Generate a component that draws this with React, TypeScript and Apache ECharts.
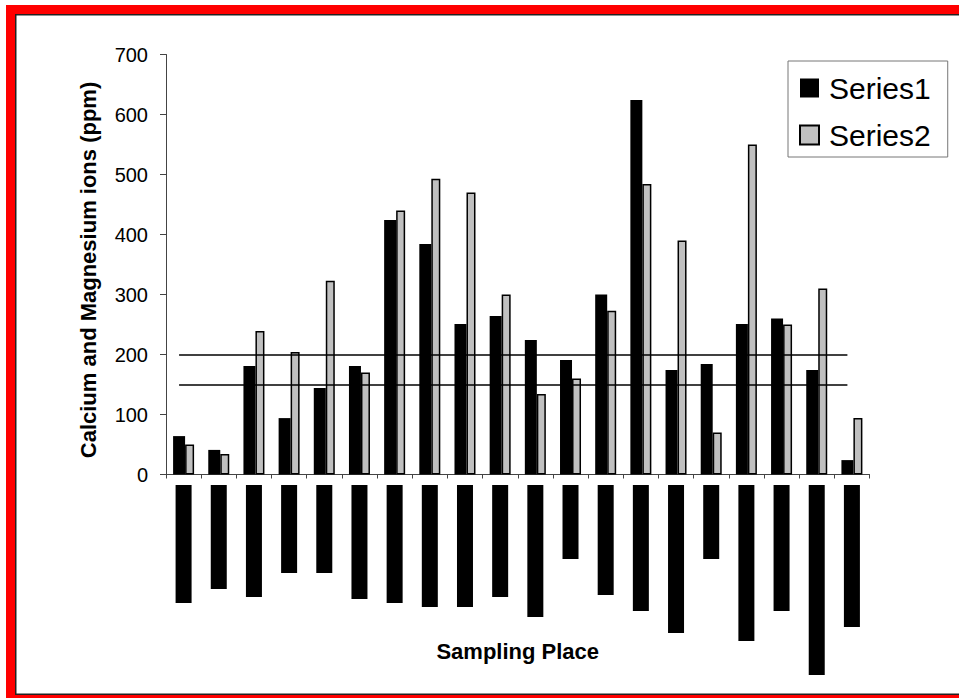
import React, { useEffect, useRef } from "react";
import * as echarts from "echarts";

const categories = ["1", "2", "3", "4", "5", "6", "7", "8", "9", "10", "11", "12", "13", "14", "15", "16", "17", "18", "19", "20"];
const series1Values = [64, 41, 181, 94, 144, 181, 424, 384, 251, 264, 224, 191, 300, 624, 174, 184, 251, 260, 174, 24];
const series2Values = [50, 34, 239, 204, 323, 170, 440, 493, 470, 300, 134, 160, 273, 484, 390, 70, 550, 250, 310, 94];
// lengths of the black category-label blocks hanging under the axis
const labelBlockLengths = [118, 104, 112, 88, 88, 114, 118, 122, 122, 112, 132, 74, 110, 126, 148, 74, 156, 126, 190, 142];
const thresholds = [200, 150];
const seriesNames = ["Series1", "Series2"];

const FONT = "'Liberation Sans', Arial, Helvetica, sans-serif";

export default function App() {
  const ref = useRef<HTMLDivElement>(null);
  useEffect(() => {
    const chart = echarts.init(ref.current!, null, { renderer: "svg" });
    const last = categories[categories.length - 1];
    chart.setOption({
      animation: false,
      backgroundColor: "#ffffff",
      graphic: [
        { type: "rect", z: -10, silent: true, shape: { x: 6, y: 5, width: 1000, height: 800 }, style: { fill: "#ff0000" } },
        { type: "rect", z: -9, silent: true, shape: { x: 15, y: 14, width: 1000, height: 681 }, style: { fill: "#222222" } },
        { type: "rect", z: -8, silent: true, shape: { x: 16.5, y: 15.5, width: 1000, height: 678 }, style: { fill: "#ffffff" } },
      ],
      legend: {
        data: seriesNames,
        icon: "rect",
        orient: "vertical",
        left: 788,
        top: 61,
        itemWidth: 19,
        itemHeight: 19,
        itemGap: 17,
        padding: [12, 17, 7, 11],
        borderColor: "#777777",
        borderWidth: 1,
        backgroundColor: "#ffffff",
        textStyle: { fontSize: 30, color: "#000", fontFamily: FONT, padding: [0, 0, 0, 5] },
      },
      grid: [
        { left: 166, right: 89.5, top: 54.5, height: 420 },
        { left: 166, right: 89.5, top: 485, height: 200 },
      ],
      xAxis: [
        {
          type: "category",
          gridIndex: 0,
          data: categories,
          axisLine: { lineStyle: { color: "#444", width: 1 } },
          axisTick: { show: true, length: 4, lineStyle: { color: "#444" } },
          axisLabel: { show: false },
          name: "Sampling Place",
          nameLocation: "middle",
          nameGap: 166,
          nameTextStyle: { fontSize: 22, fontWeight: "bold", color: "#000", fontFamily: FONT },
        },
        { type: "category", gridIndex: 1, data: categories, show: false },
      ],
      yAxis: [
        {
          type: "value",
          gridIndex: 0,
          min: 0,
          max: 700,
          interval: 100,
          splitLine: { show: false },
          axisLine: { show: true, lineStyle: { color: "#444", width: 1 } },
          axisTick: { show: true, length: 6, lineStyle: { color: "#444" } },
          axisLabel: { fontSize: 20, color: "#000", fontFamily: FONT, margin: 18 },
          name: "Calcium and Magnesium ions (ppm)",
          nameLocation: "middle",
          nameGap: 67,
          nameTextStyle: { fontSize: 22, fontWeight: "bold", color: "#000", fontFamily: FONT, padding: [0, 11, 0, 0] },
        },
        { type: "value", gridIndex: 1, min: 0, max: 200, inverse: true, show: false },
      ],
      series: [
        {
          name: seriesNames[0],
          type: "bar",
          xAxisIndex: 0,
          yAxisIndex: 0,
          data: series1Values,
          barWidth: 12,
          barGap: "0%",
          itemStyle: { color: "#000000" },
          markLine: {
            silent: true,
            symbol: "none",
            label: { show: false },
            lineStyle: { color: "#000", width: 1.5, type: "solid" },
            data: thresholds.map((v) => [{ coord: [categories[0], v] }, { coord: [last, v] }]),
          },
        },
        {
          name: seriesNames[1],
          type: "bar",
          xAxisIndex: 0,
          yAxisIndex: 0,
          data: series2Values,
          barWidth: 9,
          barGap: "0%",
          itemStyle: { color: "#c0c0c0", borderColor: "#000", borderWidth: 1.5 },
        },
        {
          name: "labels",
          type: "bar",
          xAxisIndex: 1,
          yAxisIndex: 1,
          data: labelBlockLengths,
          barWidth: 16,
          itemStyle: { color: "#000000" },
        },
      ],
    });
    return () => chart.dispose();
  }, []);
  return <div ref={ref} style={{ position: "fixed", left: 0, top: 0, width: 959, height: 698 }} />;
}
